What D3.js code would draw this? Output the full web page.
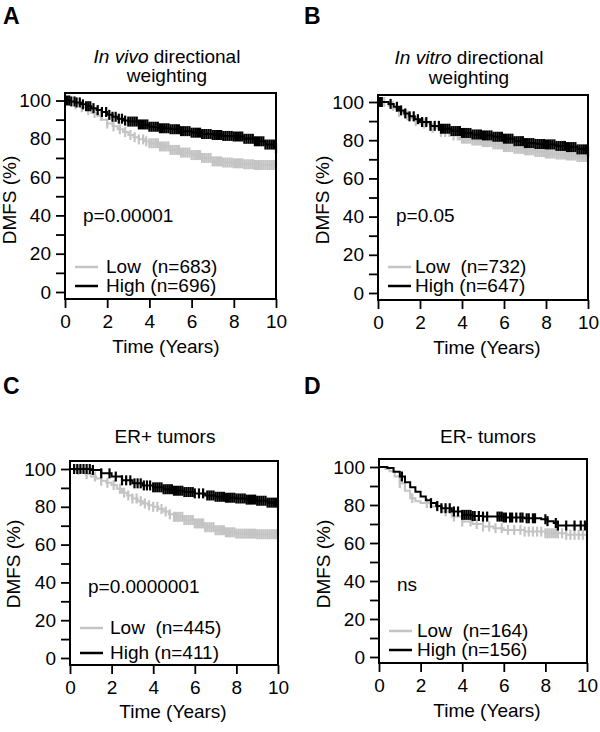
<!DOCTYPE html>
<html><head><meta charset="utf-8">
<script src="https://cdn.jsdelivr.net/npm/d3@7"></script>
<style>
html,body{margin:0;padding:0;background:#fff;}
svg text{font-family:"Liberation Sans",Arial,Helvetica,sans-serif;fill:#000;}
</style></head>
<body>
<svg id="chart" width="600" height="732"></svg>
<script>
// ---------- DATA ----------
const panelLetters = ["A","B","C","D"];
const pValues = ["p=0.00001","p=0.05","p=0.0000001","ns"];
const legendLow = ["Low  (n=683)","Low  (n=732)","Low  (n=445)","Low  (n=164)"];
const legendHigh = ["High (n=696)","High (n=647)","High (n=411)","High (n=156)"];
const xTicks = [0,2,4,6,8,10];
const yTicks = [0,20,40,60,80,100];
const yMinorTicks = [10,30,50,70,90];
const xLabel = "Time (Years)";
const yLabel = "DMFS (%)";

// KM curves: [time (years), DMFS (%)]
const kmA_low  = [[0,100],[0.25,99],[0.5,98],[0.75,96.5],[1,95],[1.25,93.5],[1.5,92],[1.75,90],[2,88],[2.25,86.5],[2.5,85],[2.75,83.5],[3,82],[3.25,80.8],[3.5,79.7],[3.75,78.7],[4,77.7],[4.5,76],[5,74.2],[5.5,72.8],[6,71.5],[6.5,70],[7,68.2],[7.5,67.6],[8,67.2],[8.5,66.7],[9,66.3],[10,66]];
const kmA_high = [[0,100],[0.25,99.5],[0.5,99],[0.75,98],[1,97],[1.25,96],[1.5,95],[1.75,94],[2,92.5],[2.25,91.5],[2.5,90.5],[2.75,89.5],[3,89],[3.5,87.5],[4,86.3],[4.5,85.5],[5,85],[5.5,84],[6,83.2],[6.5,82.5],[7,82],[7.5,81.5],[8,81.2],[8.5,80],[9,78.7],[9.5,77],[10,75]];
const kmB_low  = [[0,100],[0.5,98],[0.75,96.5],[1,94.8],[1.25,93],[1.5,91.5],[1.75,90],[2,88.7],[2.5,86.5],[3,84.3],[3.5,82.5],[4,80.8],[4.5,79.8],[5,79],[5.5,77.8],[6,76.4],[6.5,75.5],[7,74.7],[7.5,73.8],[8,73],[8.5,72.5],[9,72],[9.5,71.2],[10,70.3]];
const kmB_high = [[0,100],[0.5,99],[0.75,97.5],[1,95.6],[1.25,94],[1.5,92.5],[1.75,91],[2,89.5],[2.5,87.5],[3,86],[3.5,84.8],[4,83.8],[4.5,83],[5,82.5],[5.5,81.8],[6,80.8],[6.5,79.5],[7,78.5],[7.5,78],[8,77.8],[8.5,77],[9,76.4],[9.5,75.2],[10,73.8]];
const kmC_low  = [[0,100],[0.25,99.5],[0.5,98.6],[0.75,97.3],[1,96],[1.25,95],[1.5,93.8],[1.75,92.7],[2,91.5],[2.25,89.5],[2.5,87.5],[2.75,86],[3,84.4],[3.25,83],[3.5,81.8],[3.75,80.8],[4,80],[4.25,78.8],[4.5,77.5],[4.75,76],[5,74.7],[5.5,73],[6,71.2],[6.5,69.2],[7,67.6],[7.5,66.5],[8,65.8],[9,65.5],[10,65]];
const kmC_high = [[0,100],[1,99.5],[1.5,97.7],[2,96],[2.5,94],[3,92.4],[3.5,91.3],[4,90.3],[4.5,89.3],[5,88.5],[5.5,87.8],[6,87.1],[6.5,86],[7,85.3],[7.5,84.8],[8,84.4],[8.5,83.8],[9,83.2],[9.5,82.2],[10,80.9]];
const kmD_low  = [[0,100],[0.3,99],[0.5,97.7],[0.75,95],[1,91.5],[1.25,87.5],[1.5,83.6],[1.75,82],[2,81],[2.5,79.2],[3,76.6],[3.5,73.9],[4,71.3],[4.5,70],[5,68.7],[5.5,67.8],[6,66.9],[7,66],[8,65.1],[9,64.3],[10,64.3]];
const kmD_high = [[0,100],[0.4,99.5],[0.7,97.5],[1,95],[1.25,92],[1.5,89.4],[1.75,87],[2,84.5],[2.25,82.5],[2.5,81],[2.75,79.5],[3,78.3],[3.5,76.6],[4,74.8],[4.5,74.2],[5,73.9],[6,73.4],[7,73],[7.8,72.5],[8.1,71.5],[8.4,70.5],[8.6,69.2],[10,69]];

// censoring times (years)
const censA_low  = [0.2,0.5,0.8,1.1,1.4,1.7,2.0,2.3,2.6,2.85,3.1,3.3,3.5,3.7,3.85,4.0,4.1,4.2,4.3,4.4,4.5,4.6,4.7,4.8,4.9,5.0,5.1,5.2,5.3,5.4,5.5,5.6,5.7,5.8,5.9,6.0,6.1,6.2,6.3,6.4,6.5,6.6,6.7,6.8,6.9,7.0,7.1,7.2,7.3,7.4,7.5,7.6,7.7,7.8,7.9,8.0,8.1,8.2,8.3,8.4,8.5,8.6,8.7,8.8,8.9,9.0,9.1,9.2,9.3,9.4,9.5,9.6,9.7,9.8,9.9,10.0];
const censA_high = [0.1,0.2,0.3,0.45,0.55,0.7,0.85,1.0,1.1,1.2,1.35,1.55,1.75,1.95,2.1,2.25,2.4,2.55,2.7,2.85,3.0,3.1,3.2,3.3,3.4,3.5,3.6,3.7,3.8,3.9,4.0,4.1,4.2,4.3,4.4,4.5,4.6,4.7,4.8,4.9,5.0,5.1,5.2,5.3,5.4,5.5,5.6,5.7,5.8,5.9,6.0,6.1,6.2,6.3,6.4,6.5,6.6,6.7,6.8,6.9,7.0,7.1,7.2,7.3,7.4,7.5,7.6,7.7,7.8,7.9,8.0,8.1,8.2,8.3,8.4,8.5,8.6,8.7,8.8,8.9,9.0,9.1,9.2,9.3,9.4,9.5,9.6,9.7,9.8,9.9,10.0];
const censB_low  = [0.3,0.7,1.0,1.4,1.8,2.2,2.6,3.0,3.2,3.4,3.6,3.8,3.9,4.0,4.1,4.2,4.3,4.4,4.5,4.6,4.7,4.8,4.9,5.0,5.1,5.2,5.3,5.4,5.5,5.6,5.7,5.8,5.9,6.0,6.1,6.2,6.3,6.4,6.5,6.6,6.7,6.8,6.9,7.0,7.1,7.2,7.3,7.4,7.5,7.6,7.7,7.8,7.9,8.0,8.1,8.2,8.3,8.4,8.5,8.6,8.7,8.8,8.9,9.0,9.1,9.2,9.3,9.4,9.5,9.6,9.7,9.8,9.9,10.0];
const censB_high = [0.03,0.08,0.13,0.18,0.6,0.9,1.1,1.3,1.5,1.7,1.9,2.1,2.3,2.5,2.7,2.9,3.0,3.1,3.2,3.3,3.4,3.5,3.6,3.7,3.8,3.9,4.0,4.1,4.2,4.3,4.4,4.5,4.6,4.7,4.8,4.9,5.0,5.1,5.2,5.3,5.4,5.5,5.6,5.7,5.8,5.9,6.0,6.1,6.2,6.3,6.4,6.5,6.6,6.7,6.8,6.9,7.0,7.1,7.2,7.3,7.4,7.5,7.6,7.7,7.8,7.9,8.0,8.1,8.2,8.3,8.4,8.5,8.6,8.7,8.8,8.9,9.0,9.1,9.2,9.3,9.4,9.5,9.6,9.7,9.8,9.9,10.0];
const censC_low  = [0.4,0.8,1.2,1.5,1.8,2.1,2.4,2.6,2.8,3.0,3.2,3.4,3.6,3.8,4.0,4.2,4.4,4.6,4.8,5.0,5.1,5.2,5.3,5.4,5.5,5.6,5.7,5.8,5.9,6.0,6.1,6.2,6.3,6.4,6.5,6.6,6.7,6.8,6.9,7.0,7.1,7.2,7.3,7.4,7.5,7.6,7.7,7.8,7.9,8.0,8.1,8.2,8.3,8.4,8.5,8.6,8.7,8.8,8.9,9.0,9.1,9.2,9.3,9.4,9.5,9.6,9.7,9.8,9.9,10.0];
const censC_high = [0.2,0.35,0.5,0.65,0.8,0.95,1.1,1.5,1.9,2.2,2.5,2.7,2.9,3.1,3.25,3.4,3.55,3.7,3.85,4.0,4.1,4.2,4.3,4.4,4.5,4.6,4.7,4.8,4.9,5.0,5.1,5.2,5.3,5.4,5.5,5.6,5.7,5.8,5.9,6.0,6.2,6.4,6.6,6.7,6.8,6.9,7.0,7.1,7.2,7.3,7.4,7.5,7.6,7.7,7.8,7.9,8.0,8.1,8.2,8.3,8.4,8.5,8.6,8.7,8.8,8.9,9.0,9.1,9.2,9.3,9.4,9.5,9.6,9.7,9.8,9.9,10.0];
const censD_low  = [1.0,1.6,2.3,2.8,3.2,3.6,4.0,4.4,4.7,5.0,5.3,5.6,5.9,6.2,6.5,6.8,7.0,7.2,7.4,7.6,7.8,8.0,8.1,8.2,8.3,8.4,8.5,8.6,8.8,9.0,9.2,9.4,9.6,9.8,10.0];
const censD_high = [1.1,2.5,2.8,3.0,3.2,3.4,3.6,3.8,4.0,4.1,4.2,4.3,4.4,4.5,4.6,4.8,5.0,5.2,5.7,5.8,5.9,6.0,6.1,6.3,6.4,6.6,6.8,6.9,7.1,7.2,7.4,7.5,8.0,8.1,8.5,8.6,9.0,9.4,9.7,9.9];

const lowColor = "#c4c4c4";
const highColor = "#000000";

// ---------- LAYOUT ----------
const panels = [
  {letter:panelLetters[0], lx:3, ly:24, left:65, right:276, top:93, bottom:299, y0:292, y100:100.5,
   title:[{parts:[["In vivo",true],[" directional",false]],y:63},{parts:[["weighting",false]],y:82}], tx:167,
   p:pValues[0], pdy:222, legLo:legendLow[0], legHi:legendHigh[0], legY1:267, legY2:286, legTx:41,
   ylx:16, yly:200, xly:353, xlx:166,
   low:kmA_low, high:kmA_high, cLow:censA_low, cHigh:censA_high},
  {letter:panelLetters[1], lx:304, ly:24, left:378, right:588, top:95, bottom:300, y0:293, y100:102,
   title:[{parts:[["In vitro",true],[" directional",false]],y:64},{parts:[["weighting",false]],y:84}], tx:469,
   p:pValues[1], pdy:222, legLo:legendLow[1], legHi:legendHigh[1], legY1:267, legY2:286, legTx:37,
   ylx:329, yly:200, xly:354, xlx:487,
   low:kmB_low, high:kmB_high, cLow:censB_low, cHigh:censB_high},
  {letter:panelLetters[2], lx:3, ly:394, left:70, right:278, top:461, bottom:665, y0:658, y100:469,
   title:[{parts:[["ER+ tumors",false]],y:443}], tx:165,
   p:pValues[2], pdy:593, legLo:legendLow[2], legHi:legendHigh[2], legY1:628, legY2:653, legTx:40,
   ylx:20, yly:564, xly:718, xlx:173,
   low:kmC_low, high:kmC_high, cLow:censC_low, cHigh:censC_high},
  {letter:panelLetters[3], lx:304, ly:394, left:379, right:587, top:459, bottom:663, y0:657, y100:467,
   title:[{parts:[["ER- tumors",false]],y:443}], tx:488,
   p:pValues[3], pdy:591, legLo:legendLow[3], legHi:legendHigh[3], legY1:631, legY2:650, legTx:38,
   ylx:330, yly:564, xly:717, xlx:487,
   low:kmD_low, high:kmD_high, cLow:censD_low, cHigh:censD_high}
];

const svg = d3.select("#chart");
const FS = 19;

function survAt(curve, t){
  let v = curve[0][1];
  for (const [ct, cv] of curve){ if (ct <= t) v = cv; else break; }
  return v;
}

panels.forEach(P => {
  const g = svg.append("g");
  const x = d3.scaleLinear().domain([0,10]).range([P.left, P.right]);
  const y = d3.scaleLinear().domain([0,100]).range([P.y0, P.y100]);

  // panel letter
  g.append("text").attr("x",P.lx).attr("y",P.ly).attr("font-size",23).attr("font-weight","bold").text(P.letter);

  // title
  P.title.forEach(line => {
    const t = g.append("text").attr("x",P.tx).attr("y",line.y).attr("text-anchor","middle").attr("font-size",FS);
    line.parts.forEach(([s,it]) => t.append("tspan").attr("font-style", it ? "italic" : "normal").text(s));
  });

  // curves
  const lineGen = d3.line().x(d => x(d[0])).y(d => y(d[1])).curve(d3.curveStepAfter);
  [[P.low, P.cLow, lowColor],[P.high, P.cHigh, highColor]].forEach(([curve, cens, col]) => {
    g.append("path").datum(curve).attr("d", lineGen).attr("fill","none").attr("stroke",col).attr("stroke-width",2);
    g.selectAll(null).data(cens).enter().append("line")
      .attr("x1", d => x(d)).attr("x2", d => x(d))
      .attr("y1", d => y(survAt(curve,d)) - 5).attr("y2", d => y(survAt(curve,d)) + 5)
      .attr("stroke", col).attr("stroke-width", 2.2);
  });

  // axes
  const ya = g.append("g").attr("transform",`translate(${P.left},0)`)
    .call(d3.axisLeft(y).tickValues(yTicks).tickSize(9).tickPadding(5).tickFormat(d3.format("d")));
  ya.select(".domain").remove();
  ya.selectAll("text").attr("font-size",FS).attr("font-family",null);
  ya.selectAll("line").attr("stroke-width",1.8);
  const ym = g.append("g").attr("transform",`translate(${P.left},0)`)
    .call(d3.axisLeft(y).tickValues(yMinorTicks).tickSize(9).tickFormat(""));
  ym.select(".domain").remove();
  ym.selectAll("line").attr("stroke-width",1.8);

  const xa = g.append("g").attr("transform",`translate(0,${P.bottom})`)
    .call(d3.axisBottom(x).tickValues(xTicks).tickSize(9).tickPadding(7).tickFormat(d3.format("d")));
  xa.select(".domain").remove();
  xa.selectAll("text").attr("font-size",FS).attr("font-family",null);
  xa.selectAll("line").attr("stroke-width",1.8);

  // box
  g.append("rect").attr("x",P.left).attr("y",P.top).attr("width",P.right-P.left).attr("height",P.bottom-P.top)
    .attr("fill","none").attr("stroke","#000").attr("stroke-width",2);

  // p-value
  g.append("text").attr("x",P.left+18).attr("y",P.pdy).attr("font-size",FS).text(P.p);

  // legend
  g.append("line").attr("x1",P.left+10).attr("x2",P.left+33).attr("y1",P.legY1).attr("y2",P.legY1).attr("stroke",lowColor).attr("stroke-width",2.5);
  g.append("line").attr("x1",P.left+10).attr("x2",P.left+33).attr("y1",P.legY2).attr("y2",P.legY2).attr("stroke",highColor).attr("stroke-width",2.5);
  g.append("text").attr("x",P.left+P.legTx).attr("y",P.legY1+6).attr("font-size",FS).style("white-space","pre").text(P.legLo);
  g.append("text").attr("x",P.left+P.legTx).attr("y",P.legY2+6).attr("font-size",FS).style("white-space","pre").text(P.legHi);

  // axis labels
  g.append("text").attr("x",P.xlx).attr("y",P.xly).attr("text-anchor","middle").attr("font-size",FS).text(xLabel);
  g.append("text").attr("transform",`translate(${P.ylx},${P.yly}) rotate(-90)`).attr("text-anchor","middle").attr("font-size",FS).text(yLabel);
});
</script>
</body></html>
